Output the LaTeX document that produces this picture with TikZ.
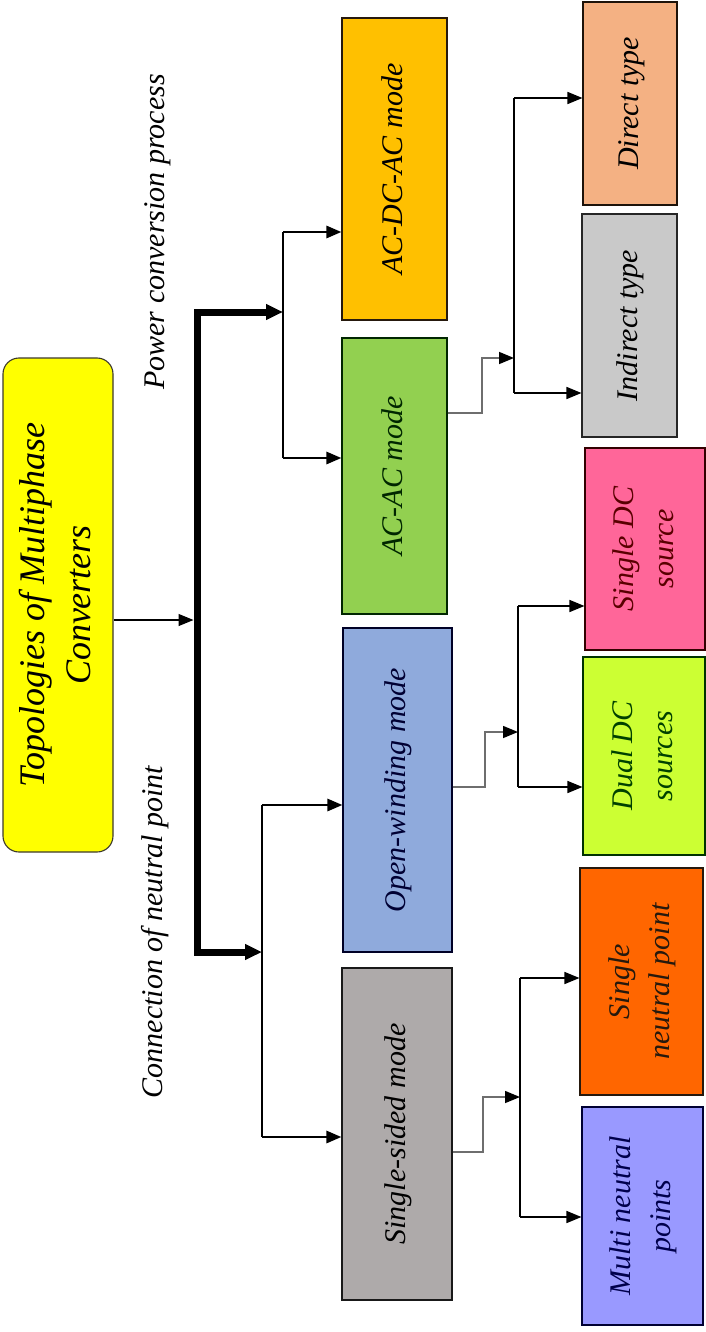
\documentclass[tikz,border=0pt]{standalone}
\usepackage{fontspec}
\setmainfont{Liberation Serif}
\usetikzlibrary{arrows.meta}
\definecolor{cRoot}{HTML}{FFFF00}
\definecolor{cAcdc}{HTML}{FFC000}
\definecolor{cAcac}{HTML}{92D050}
\definecolor{cOpen}{HTML}{8FAADC}
\definecolor{cSing}{HTML}{AEAAAA}
\definecolor{cDir}{HTML}{F4B183}
\definecolor{cInd}{HTML}{C9C9C9}
\definecolor{cSdc}{HTML}{FF6699}
\definecolor{cDdc}{HTML}{CCFF33}
\definecolor{cSnp}{HTML}{FF6600}
\definecolor{cMnp}{HTML}{9999FF}
\definecolor{cElb}{HTML}{6E6E6E}
\newcommand{\rtext}[1]{\rotatebox{90}{\begin{tabular}{@{}c@{}}#1\end{tabular}}}
\begin{document}
\begin{tikzpicture}[x=1pt,y=-1pt,
  txt/.style={font=\itshape\fontsize{30}{40}\selectfont},
  box/.style={txt,draw=#1,line width=1.1pt,inner sep=0pt,anchor=center},
  tip/.style={-{Triangle[length=15pt,width=12pt]}},
  thickln/.style={line width=7pt},
  midln/.style={line width=2.8pt},
  thinln/.style={line width=1.5pt},
  elbow/.style={line width=2pt,draw=cElb}
]
\useasboundingbox (0,0) rectangle (706,1332);
\fill[white] (0,0) rectangle (706,1332);

% root
\node[box=black!75!olive,fill=cRoot,rounded corners=16pt,minimum width=110pt,minimum height=494pt,font=\itshape\fontsize{36}{46}\selectfont] (root) at (58,605)
  {\rtext{Topologies of Multiphase\\Converters}};

% level 2
\node[box=black!80!brown,fill=cAcdc,minimum width=105pt,minimum height=302pt] (acdcac) at (394.5,169) {\rtext{AC-DC-AC mode}};
\node[box=black!85!green,fill=cAcac,minimum width=105pt,minimum height=276pt,text=black!85!green] (acac) at (394.5,476) {\rtext{AC-AC mode}};
\node[box=black!85!blue,fill=cOpen,minimum width=109pt,minimum height=324pt,text=black!80!blue] (open) at (397.5,790) {\rtext{Open-winding mode}};
\node[box=black!90,fill=cSing,minimum width=110pt,minimum height=332pt] (single) at (397,1134) {\rtext{Single-sided mode}};

% level 3
\node[box=black!85!brown,fill=cDir,minimum width=94pt,minimum height=203pt] (direct) at (630,103.5) {\rtext{Direct type}};
\node[box=black!85,fill=cInd,minimum width=95pt,minimum height=223pt] (indirect) at (629.5,325.5) {\rtext{Indirect type}};
\node[box=black!80!red,fill=cSdc,minimum width=120pt,minimum height=202pt,text=black!65!red] (sdc) at (645,549) {\rtext{Single DC\\source}};
\node[box=black!80!green,fill=cDdc,minimum width=122pt,minimum height=198pt,text=black!75!green] (ddc) at (644,756) {\rtext{Dual DC\\sources}};
\node[box=black!80!brown,fill=cSnp,minimum width=123pt,minimum height=227pt,text=black!80!brown] (snp) at (641.5,981.5) {\rtext{Single\\neutral point}};
\node[box=black!80!blue,fill=cMnp,minimum width=121pt,minimum height=218pt,text=black!70!blue] (mnp) at (642.5,1216) {\rtext{Multi neutral\\points}};

% labels
\node[txt,rotate=90] (lpow) at (158,232) {Power conversion process};
\node[txt,rotate=90] (lneu) at (155,932) {Connection of neutral point};

% root to hub
\coordinate (hub) at (197,620);
\draw[line width=1.2pt,tip,shorten >=3.5pt] (root.east |- hub) -- (hub);

% thick trunk
\coordinate (h1) at (197,312);
\coordinate (h2) at (197,952);
\coordinate (a0) at (283,312);
\coordinate (b0) at (262,952);
\draw[thickln,-{Triangle[length=17pt,width=15pt]}] (h1) -- (a0);
\draw[thickln,-{Triangle[length=17pt,width=15pt]}] (h2) -- (b0);
\draw[thickln,line cap=rect] (h1) -- (h2);

% upper branch
\coordinate (a1) at (283,232);
\coordinate (a2) at (283,458);
\draw[midln] (a1) -- (a2);
\draw[midln,tip] (a1) -- (a1 -| acdcac.west);
\draw[midln,tip] (a2) -- (a2 -| acac.west);

% lower branch
\coordinate (b1) at (262,805);
\coordinate (b2) at (262,1137);
\draw[midln] (b1) -- (b2);
\draw[midln,tip] (b1) -- (b1 -| open.west);
\draw[midln,tip] (b2) -- (b2 -| single.west);

% AC-AC children
\coordinate (e1) at (482,413);
\coordinate (c1) at (514,358);
\coordinate (c2) at (514,98);
\coordinate (c3) at (514,393);
\draw[elbow] (acac.east |- e1) -- (e1) -- (e1 |- c1) -- ([xshift=-10pt]c1);
\draw[thinln,tip] ([xshift=-14pt]c1) -- (c1);
\draw[thinln] (c2) -- (c3);
\draw[thinln,tip] (c2) -- (c2 -| direct.west);
\draw[thinln,tip] (c3) -- (c3 -| indirect.west);

% Open-winding children
\coordinate (e2) at (485,787);
\coordinate (d1) at (518,732);
\coordinate (d2) at (518,606);
\coordinate (d3) at (518,787);
\draw[elbow] (open.east |- e2) -- (e2) -- (e2 |- d1) -- ([xshift=-10pt]d1);
\draw[thinln,tip] ([xshift=-14pt]d1) -- (d1);
\draw[thinln] (d2) -- (d3);
\draw[thinln,tip] (d2) -- (d2 -| sdc.west);
\draw[thinln,tip] (d3) -- (d3 -| ddc.west);

% Single-sided children
\coordinate (e3) at (483,1152);
\coordinate (f1) at (520,1097);
\coordinate (f2) at (520,978);
\coordinate (f3) at (520,1217);
\draw[elbow] (single.east |- e3) -- (e3) -- (e3 |- f1) -- ([xshift=-10pt]f1);
\draw[thinln,tip] ([xshift=-14pt]f1) -- (f1);
\draw[thinln] (f2) -- (f3);
\draw[thinln,tip] (f2) -- (f2 -| snp.west);
\draw[thinln,tip] (f3) -- (f3 -| mnp.west);
\end{tikzpicture}
\end{document}
